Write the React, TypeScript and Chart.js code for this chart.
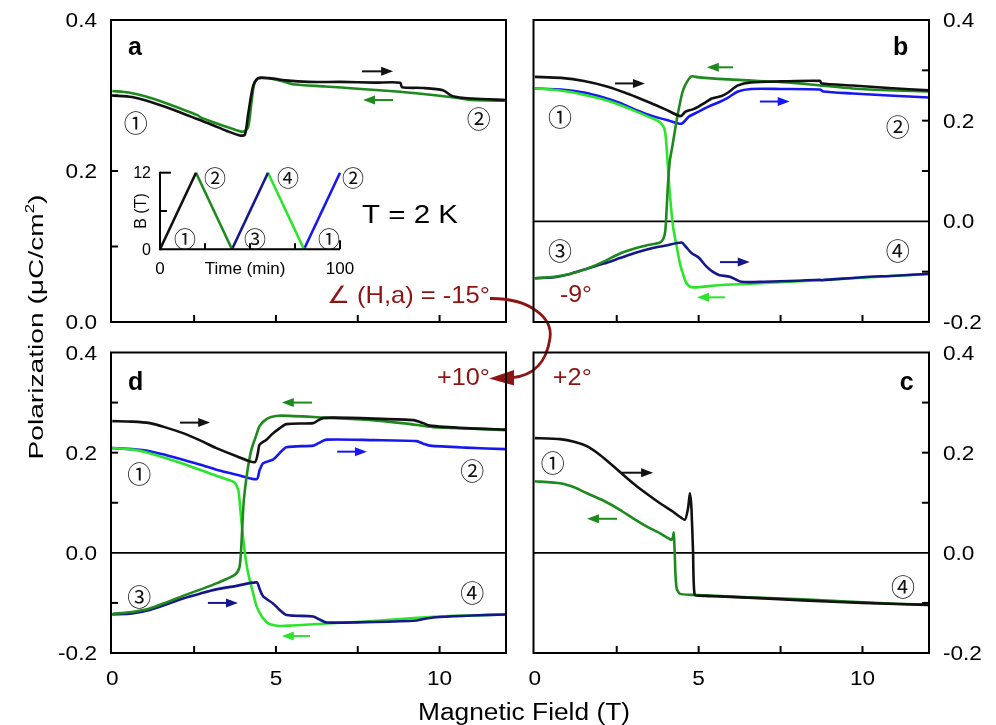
import React, { useEffect, useRef } from 'react';
import { Chart, registerables } from 'chart.js';

Chart.register(...registerables);

type Pt = [number, number];

// ---------------- DATA (B in tesla, P in µC/cm²) ----------------
// Panel a  (∠(H,a) = -15°)
const aSweepUp: Pt[] = [
  [0, 0.300], [0.6, 0.298], [1.2, 0.291], [1.8, 0.282], [2.4, 0.272], [3.0, 0.262], [3.5, 0.253],
  [3.9, 0.247], [4.05, 0.248], [4.15, 0.275], [4.3, 0.312], [4.45, 0.323], [4.8, 0.323], [5.3, 0.320],
  [6.0, 0.318], [7.0, 0.318], [8.0, 0.317], [8.8, 0.317], [8.85, 0.311], [9.5, 0.310], [10.1, 0.307],
  [10.4, 0.299], [11.0, 0.296], [12.05, 0.294],
];
const aSweepDown: Pt[] = [
  [12.05, 0.293], [11.0, 0.294], [10.5, 0.297], [9.5, 0.302], [8.8, 0.305], [7.5, 0.309], [6.5, 0.312],
  [5.5, 0.315], [5.2, 0.319], [4.9, 0.322], [4.5, 0.323], [4.35, 0.318], [4.25, 0.29], [4.15, 0.258],
  [4.0, 0.252], [3.6, 0.257], [3.0, 0.266], [2.7, 0.271], [2.6, 0.274], [2.0, 0.284], [1.5, 0.292],
  [1.0, 0.299], [0.5, 0.304], [0, 0.306],
];

// Panel b  (-9°)
const bUp1: Pt[] = [
  [0, 0.287], [0.8, 0.285], [1.5, 0.279], [2.2, 0.268], [2.9, 0.252], [3.5, 0.236], [4.0, 0.222],
  [4.45, 0.209], [4.6, 0.218], [4.8, 0.222], [5.0, 0.228], [5.2, 0.236], [5.4, 0.244], [5.7, 0.249],
  [5.9, 0.256], [6.2, 0.270], [6.6, 0.276], [7.5, 0.278], [8.7, 0.279], [8.75, 0.274], [9.7, 0.270],
  [10.8, 0.265], [12.05, 0.260],
];
const bDown1: Pt[] = [
  [12.05, 0.258], [11.0, 0.260], [9.7, 0.264], [8.7, 0.270], [7.7, 0.276], [6.5, 0.280], [5.6, 0.283],
  [5.0, 0.286], [4.78, 0.288], [4.6, 0.272], [4.5, 0.255], [4.4, 0.225], [4.3, 0.19], [4.2, 0.15],
  [4.12, 0.12], [4.06, 0.07], [4.02, 0.02], [3.98, -0.02], [3.92, -0.035], [3.82, -0.042], [3.4, -0.048],
  [3.0, -0.055], [2.6, -0.064], [2.1, -0.080], [1.6, -0.094], [1.1, -0.104], [0.6, -0.110], [0, -0.113],
];
const bUp2: Pt[] = [
  [0, -0.113], [0.6, -0.111], [1.1, -0.104], [1.6, -0.094], [2.1, -0.084], [2.6, -0.073], [3.1, -0.062],
  [3.6, -0.053], [4.0, -0.048], [4.48, -0.042], [4.6, -0.050], [4.8, -0.064], [5.0, -0.072], [5.24, -0.090],
  [5.45, -0.101], [5.64, -0.107], [5.95, -0.110], [6.3, -0.120], [7.0, -0.120], [8.0, -0.118], [8.7, -0.116],
  [8.75, -0.117], [10.0, -0.111], [11.0, -0.108], [12.05, -0.104],
];
const bDown2: Pt[] = [
  [12.05, -0.105], [11.0, -0.108], [10.0, -0.112], [8.7, -0.117], [7.5, -0.121], [6.6, -0.124], [5.6, -0.127],
  [4.78, -0.131], [4.62, -0.122], [4.5, -0.10], [4.43, -0.084], [4.3, -0.04], [4.22, -0.011], [4.12, 0.055],
  [4.05, 0.12], [4.0, 0.165], [3.95, 0.185], [3.82, 0.197], [3.61, 0.204], [3.1, 0.218], [2.6, 0.231],
  [2.1, 0.242], [1.6, 0.250], [1.1, 0.257], [0.5, 0.262], [0, 0.264],
];
const bUp3: Pt[] = [
  [0, 0.264], [0.8, 0.262], [1.5, 0.256], [2.1, 0.246], [2.6, 0.235], [3.1, 0.221], [3.6, 0.209],
  [4.1, 0.200], [4.48, 0.194], [4.7, 0.208], [5.0, 0.218], [5.3, 0.228], [5.6, 0.236], [5.9, 0.246],
  [6.2, 0.258], [6.6, 0.263], [7.5, 0.263], [8.7, 0.262], [8.8, 0.258], [9.7, 0.254], [10.8, 0.250],
  [12.05, 0.246],
];

// Panel d  (+10°)
const dUp1: Pt[] = [
  [0, 0.263], [0.6, 0.262], [1.14, 0.259], [1.6, 0.251], [2.16, 0.239], [2.7, 0.224], [3.18, 0.209],
  [3.8, 0.193], [4.35, 0.181], [4.45, 0.2], [4.5, 0.216], [4.71, 0.226], [4.9, 0.238], [5.12, 0.249],
  [5.32, 0.257], [6.14, 0.259], [6.3, 0.265], [6.44, 0.269], [6.75, 0.270], [8.0, 0.268], [9.2, 0.265],
  [9.5, 0.259], [9.7, 0.254], [10.8, 0.249], [12.05, 0.246],
];
const dDown1: Pt[] = [
  [12.05, 0.245], [11.0, 0.248], [9.8, 0.251], [9.0, 0.258], [7.77, 0.266], [6.5, 0.270], [5.17, 0.274],
  [4.85, 0.271], [4.65, 0.264], [4.5, 0.253], [4.4, 0.235], [4.25, 0.206], [4.12, 0.16], [4.02, 0.106],
  [3.97, 0.05], [3.93, 0.0], [3.88, -0.03], [3.74, -0.044], [3.18, -0.061], [2.7, -0.073], [2.16, -0.086],
  [1.65, -0.099], [1.14, -0.111], [0.6, -0.118], [0, -0.122],
];
const dUp2: Pt[] = [
  [0, -0.123], [0.6, -0.121], [1.14, -0.114], [1.65, -0.103], [2.16, -0.091], [2.7, -0.081], [3.18, -0.073],
  [3.8, -0.066], [4.41, -0.059], [4.5, -0.072], [4.61, -0.087], [4.91, -0.101], [5.1, -0.113], [5.32, -0.124],
  [6.14, -0.127], [6.3, -0.132], [6.55, -0.139], [8.0, -0.138], [9.3, -0.135], [9.6, -0.131], [10.0, -0.128],
  [11.0, -0.125], [12.05, -0.123],
];
const dDown2: Pt[] = [
  [12.05, -0.123], [11.0, -0.125], [10.0, -0.127], [9.0, -0.131], [7.77, -0.137], [6.55, -0.141], [5.5, -0.145],
  [5.12, -0.146], [4.85, -0.143], [4.71, -0.138], [4.55, -0.125], [4.41, -0.107], [4.28, -0.075], [4.15, -0.041],
  [4.05, 0.0], [3.95, 0.06], [3.88, 0.11], [3.85, 0.125], [3.74, 0.14], [3.49, 0.147], [3.0, 0.158],
  [2.67, 0.166], [2.16, 0.178], [1.65, 0.189], [1.14, 0.199], [0.63, 0.206], [0, 0.209],
];
const dUp3: Pt[] = [
  [0, 0.209], [0.6, 0.207], [1.14, 0.203], [1.65, 0.195], [2.16, 0.186], [2.7, 0.176], [3.18, 0.166],
  [3.8, 0.156], [4.41, 0.147], [4.5, 0.165], [4.61, 0.179], [4.91, 0.186], [5.1, 0.198], [5.32, 0.211],
  [6.14, 0.214], [6.3, 0.219], [6.55, 0.226], [8.0, 0.225], [9.3, 0.223], [9.5, 0.218], [9.7, 0.214],
  [10.8, 0.210], [12.05, 0.207],
];

// Panel c  (+2°)
const cSweepUp: Pt[] = [
  [0, 0.229], [0.77, 0.227], [1.2, 0.222], [1.59, 0.213], [2.0, 0.195], [2.4, 0.173], [2.8, 0.150],
  [3.11, 0.133], [3.5, 0.114], [3.82, 0.099], [4.2, 0.083], [4.58, 0.066], [4.68, 0.09], [4.73, 0.119],
  [4.78, 0.09], [4.83, 0.0], [4.88, -0.084], [5.2, -0.086], [5.64, -0.087], [7.0, -0.091], [8.18, -0.095],
  [10.0, -0.100], [12.05, -0.104],
];
const cSweepDown: Pt[] = [
  [12.05, -0.104], [10.0, -0.099], [8.18, -0.093], [6.5, -0.089], [5.5, -0.086], [4.8, -0.084], [4.43, -0.082],
  [4.33, -0.072], [4.29, -0.04], [4.27, 0.0], [4.25, 0.03], [4.24, 0.041], [4.21, 0.03], [4.17, 0.026],
  [3.8, 0.040], [3.41, 0.053], [3.0, 0.069], [2.6, 0.086], [2.1, 0.104], [1.59, 0.119], [1.2, 0.131],
  [0.77, 0.139], [0, 0.143],
];

// Inset: field protocol B(T) vs time (min)
const insetSeg1: Pt[] = [[0, 0], [20, 12]];
const insetSeg2: Pt[] = [[20, 12], [40, 0]];
const insetSeg3: Pt[] = [[40, 0], [60, 12]];
const insetSeg4: Pt[] = [[60, 12], [80, 0]];
const insetSeg5: Pt[] = [[80, 0], [100, 12]];

// Axis ticks / labels
const X_TICKS = [2.5, 5, 7.5, 10];
const X_LABELS = [0, 5, 10];
const Y_TICKS_A = [0.1, 0.2, 0.3];
const Y_LABELS_A = [0, 0.2, 0.4];
const Y_TICKS_BCD = [-0.1, 0.1, 0.2, 0.3];
const Y_LABELS_BCD = [-0.2, 0, 0.2, 0.4];
const INSET_Y_TICKS = [6, 12];
const INSET_X_TICKS = [25, 50, 75, 100];
const INSET_Y_LABELS = [0, 12];
const INSET_X_LABELS = [0, 100];

// ---------------- STYLE / LAYOUT ----------------
const W = 996;
const H = 725;
const SANS = '"Liberation Sans", Arial, "DejaVu Sans", sans-serif';
const CJK = '"Noto Sans CJK JP", "Noto Sans CJK SC", "DejaVu Sans", sans-serif';
const DARK_RED = '#8E1414';
const COL = {
  black: '#111111',
  dkgreen: '#1E8A1E',
  ltgreen: '#2BE52B',
  blue: '#1717F2',
  navy: '#16168C',
};
const X_MIN = -0.04;
const X_MAX = 12.03;
const TICK_STRETCH = 1.13;
const MARK_SIZE = 24;
const INSET_MARK_SIZE = 22;

interface Series { pts: Pt[]; color: string; tension?: number }
interface Arrow { from: number; to: number; y: number; color: string }
interface Mark { text: string; x: number; y: number }
interface Note { text: string; x: number; y: number; size: number; bold?: boolean; color?: string; width?: number; valign?: 'baseline' | 'center' }
interface PanelCfg {
  kind: 'panel';
  area: { left: number; top: number; right: number; bottom: number };
  yMin: number; yMax: number;
  side: 'left' | 'right';
  yTicks: number[]; yLabels: number[]; xLabels: number[];
  zero: boolean;
  series: Series[];
  arrows: Arrow[];
  marks: Mark[];
  notes: Note[];
  global?: boolean;
}
interface InsetCfg {
  kind: 'inset';
  area: { left: number; top: number; right: number; bottom: number };
  series: Series[];
  marks: Mark[];
}

const PANEL_A: PanelCfg = {
  kind: 'panel',
  area: { left: 111, top: 20, right: 506, bottom: 322 },
  yMin: 0, yMax: 0.4, side: 'left',
  yTicks: Y_TICKS_A, yLabels: Y_LABELS_A, xLabels: [], zero: false,
  series: [
    { pts: aSweepUp, color: COL.black },
    { pts: aSweepDown, color: COL.dkgreen },
  ],
  arrows: [
    { from: 7.63, to: 8.58, y: 0.332, color: COL.black },
    { from: 8.58, to: 7.66, y: 0.294, color: COL.dkgreen },
  ],
  marks: [
    { text: '①', x: 0.72, y: 0.264 },
    { text: '②', x: 11.2, y: 0.269 },
  ],
  notes: [
    { text: 'a', x: 0.48, y: 0.354, size: 25, bold: true, valign: 'baseline' },
    { text: 'T = 2 K', x: 7.63, y: 0.144, size: 26, width: 96 },
    { text: '∠ (H,a) = -15°', x: 6.56, y: 0.036, size: 24, width: 163, color: DARK_RED },
  ],
  global: true,
};

const PANEL_B: PanelCfg = {
  kind: 'panel',
  area: { left: 533.5, top: 20, right: 929, bottom: 322 },
  yMin: -0.2, yMax: 0.4, side: 'right',
  yTicks: Y_TICKS_BCD, yLabels: Y_LABELS_BCD, xLabels: [], zero: true,
  series: [
    { pts: bUp1, color: COL.black },
    { pts: bDown1, color: COL.dkgreen },
    { pts: bUp2, color: COL.navy },
    { pts: bDown2, color: COL.ltgreen },
    { pts: bUp3, color: COL.blue },
  ],
  arrows: [
    { from: 2.45, to: 3.36, y: 0.274, color: COL.black },
    { from: 6.05, to: 5.25, y: 0.306, color: COL.dkgreen },
    { from: 6.87, to: 7.78, y: 0.238, color: COL.blue },
    { from: 5.65, to: 6.56, y: -0.081, color: COL.navy },
    { from: 5.8, to: 4.95, y: -0.151, color: COL.ltgreen },
  ],
  marks: [
    { text: '①', x: 0.77, y: 0.207 },
    { text: '②', x: 11.08, y: 0.187 },
    { text: '③', x: 0.77, y: -0.058 },
    { text: '④', x: 11.08, y: -0.058 },
  ],
  notes: [
    { text: 'b', x: 10.93, y: 0.330, size: 25, bold: true, valign: 'baseline' },
    { text: '-9°', x: 0.77, y: -0.143, size: 24, width: 32, color: DARK_RED },
  ],
};

const PANEL_D: PanelCfg = {
  kind: 'panel',
  area: { left: 111, top: 352.5, right: 506, bottom: 653 },
  yMin: -0.2, yMax: 0.4, side: 'left',
  yTicks: Y_TICKS_BCD, yLabels: Y_LABELS_BCD, xLabels: X_LABELS, zero: true,
  series: [
    { pts: dUp1, color: COL.black },
    { pts: dDown1, color: COL.dkgreen },
    { pts: dUp2, color: COL.navy },
    { pts: dDown2, color: COL.ltgreen },
    { pts: dUp3, color: COL.blue },
  ],
  arrows: [
    { from: 2.07, to: 2.99, y: 0.26, color: COL.black },
    { from: 6.1, to: 5.18, y: 0.30, color: COL.dkgreen },
    { from: 6.87, to: 7.78, y: 0.202, color: COL.blue },
    { from: 2.92, to: 3.84, y: -0.10, color: COL.navy },
    { from: 6.04, to: 5.18, y: -0.166, color: COL.ltgreen },
  ],
  marks: [
    { text: '①', x: 0.82, y: 0.158 },
    { text: '②', x: 11.0, y: 0.164 },
    { text: '③', x: 0.82, y: -0.088 },
    { text: '④', x: 11.0, y: -0.08 },
  ],
  notes: [
    { text: 'd', x: 0.48, y: 0.326, size: 25, bold: true, valign: 'baseline' },
    { text: '+10°', x: 9.92, y: 0.352, size: 24, width: 53, color: DARK_RED },
  ],
};

const PANEL_C: PanelCfg = {
  kind: 'panel',
  area: { left: 533.5, top: 352.5, right: 929, bottom: 653 },
  yMin: -0.2, yMax: 0.4, side: 'right',
  yTicks: Y_TICKS_BCD, yLabels: Y_LABELS_BCD, xLabels: X_LABELS, zero: true,
  series: [
    { pts: cSweepUp, color: COL.black, tension: 0.15 },
    { pts: cSweepDown, color: COL.dkgreen, tension: 0.15 },
  ],
  arrows: [
    { from: 2.66, to: 3.61, y: 0.16, color: COL.black },
    { from: 2.51, to: 1.59, y: 0.068, color: COL.dkgreen },
  ],
  marks: [
    { text: '①', x: 0.55, y: 0.18 },
    { text: '④', x: 11.24, y: -0.068 },
  ],
  notes: [
    { text: 'c', x: 11.14, y: 0.326, size: 25, bold: true, valign: 'baseline' },
    { text: '+2°', x: 0.55, y: 0.352, size: 24, width: 39, color: DARK_RED },
  ],
};

const INSET: InsetCfg = {
  kind: 'inset',
  area: { left: 160, top: 172.7, right: 340, bottom: 249.3 },
  series: [
    { pts: insetSeg1, color: COL.black, tension: 0 },
    { pts: insetSeg2, color: COL.dkgreen, tension: 0 },
    { pts: insetSeg3, color: COL.navy, tension: 0 },
    { pts: insetSeg4, color: COL.ltgreen, tension: 0 },
    { pts: insetSeg5, color: COL.blue, tension: 0 },
  ],
  marks: [
    { text: '①', x: 13.9, y: 1.6 },
    { text: '②', x: 30.6, y: 11.3 },
    { text: '③', x: 52.8, y: 1.6 },
    { text: '④', x: 71.1, y: 11.3 },
    { text: '②', x: 107.2, y: 11.3 },
    { text: '①', x: 93.9, y: 1.6 },
  ],
};

// curved dark-red arrow linking the panels (page pixels)
const CURVE = {
  start: [490, 298.5], c1: [530, 298], c2: [553, 318], mid: [550, 338],
  c3: [547, 360], c4: [535, 376], end: [511, 377.8],
  tip: [489, 378.4], back1: [514, 370], back2: [514, 385.5],
};

// ---------------- DRAW HELPERS ----------------
interface TextOpt { size: number; bold?: boolean; color?: string; align?: 'left' | 'center' | 'right'; stretch?: number; width?: number; valign?: 'baseline' | 'center'; family?: string }

function drawText(ctx: CanvasRenderingContext2D, s: string, x: number, y: number, o: TextOpt) {
  ctx.save();
  ctx.font = `${o.bold ? 'bold ' : ''}${o.size}px ${o.family || SANS}`;
  ctx.fillStyle = o.color || '#000';
  ctx.textAlign = 'left';
  ctx.textBaseline = 'alphabetic';
  const w = ctx.measureText(s).width;
  const k = o.width ? o.width / w : (o.stretch ?? 1);
  const tw = w * k;
  let x0 = x;
  if (o.align === 'center') x0 = x - tw / 2;
  else if (o.align === 'right') x0 = x - tw;
  const base = o.valign === 'baseline' ? y : y + o.size * 0.358;
  ctx.translate(x0, base);
  ctx.scale(k, 1);
  ctx.fillText(s, 0, 0);
  ctx.restore();
}

function drawCircled(ctx: CanvasRenderingContext2D, s: string, x: number, y: number, size: number) {
  ctx.save();
  ctx.font = `${size}px ${CJK}`;
  ctx.fillStyle = '#111';
  ctx.textAlign = 'center';
  ctx.textBaseline = 'middle';
  ctx.fillText(s, x, y);
  ctx.restore();
}

function drawArrow(ctx: CanvasRenderingContext2D, x1: number, x2: number, y: number, color: string) {
  const dir = Math.sign(x2 - x1);
  const head = 12;
  const hw = 4.5;
  ctx.save();
  ctx.strokeStyle = color;
  ctx.fillStyle = color;
  ctx.lineWidth = 2;
  ctx.beginPath();
  ctx.moveTo(x1, y);
  ctx.lineTo(x2 - dir * head * 0.7, y);
  ctx.stroke();
  ctx.beginPath();
  ctx.moveTo(x2, y);
  ctx.lineTo(x2 - dir * head, y - hw);
  ctx.lineTo(x2 - dir * head, y + hw);
  ctx.closePath();
  ctx.fill();
  ctx.restore();
}

function line(ctx: CanvasRenderingContext2D, x1: number, y1: number, x2: number, y2: number, w = 2, color = '#000') {
  ctx.save();
  ctx.strokeStyle = color;
  ctx.lineWidth = w;
  ctx.beginPath();
  ctx.moveTo(x1, y1);
  ctx.lineTo(x2, y2);
  ctx.stroke();
  ctx.restore();
}

function drawGlobal(ctx: CanvasRenderingContext2D) {
  // y-axis title (rotated), with superscript 2
  ctx.save();
  ctx.translate(43, 327);
  ctx.rotate(-Math.PI / 2);
  const size = 20.5;
  const p1 = 'Polarization (μC/cm';
  const p2 = '2';
  const p3 = ')';
  ctx.fillStyle = '#000';
  ctx.textBaseline = 'alphabetic';
  ctx.font = `${size}px ${SANS}`;
  const w1 = ctx.measureText(p1).width;
  const w3 = ctx.measureText(p3).width;
  ctx.font = `${size * 0.6}px ${SANS}`;
  const w2 = ctx.measureText(p2).width;
  const total = w1 + w2 + w3;
  const k = 265 / total;
  ctx.scale(k, 1);
  let x = -total / 2;
  ctx.font = `${size}px ${SANS}`;
  ctx.fillText(p1, x, 0);
  x += w1;
  ctx.font = `${size * 0.6}px ${SANS}`;
  ctx.fillText(p2, x, -size * 0.45);
  x += w2;
  ctx.font = `${size}px ${SANS}`;
  ctx.fillText(p3, x, 0);
  ctx.restore();

  // x-axis title
  drawText(ctx, 'Magnetic Field (T)', 524, 720, { size: 23, width: 212, align: 'center', valign: 'baseline' });

  // curved arrow
  ctx.save();
  ctx.strokeStyle = DARK_RED;
  ctx.fillStyle = DARK_RED;
  ctx.lineWidth = 2.8;
  ctx.beginPath();
  ctx.moveTo(CURVE.start[0], CURVE.start[1]);
  ctx.bezierCurveTo(CURVE.c1[0], CURVE.c1[1], CURVE.c2[0], CURVE.c2[1], CURVE.mid[0], CURVE.mid[1]);
  ctx.bezierCurveTo(CURVE.c3[0], CURVE.c3[1], CURVE.c4[0], CURVE.c4[1], CURVE.end[0], CURVE.end[1]);
  ctx.stroke();
  ctx.beginPath();
  ctx.moveTo(CURVE.tip[0], CURVE.tip[1]);
  ctx.lineTo(CURVE.back1[0], CURVE.back1[1]);
  ctx.lineTo(CURVE.back2[0], CURVE.back2[1]);
  ctx.closePath();
  ctx.fill();
  ctx.restore();
}

function panelPlugin(cfg: PanelCfg) {
  return {
    id: 'panelDeco',
    beforeDatasetsDraw(chart: any) {
      if (!cfg.zero) return;
      const { ctx, chartArea: a } = chart;
      const py = chart.scales.y.getPixelForValue(0);
      line(ctx, a.left, py, a.right, py, 1.6);
    },
    afterDraw(chart: any) {
      const { ctx, chartArea: a } = chart;
      const xs = chart.scales.x;
      const ys = chart.scales.y;
      // frame
      ctx.save();
      ctx.strokeStyle = '#000';
      ctx.lineWidth = 2;
      ctx.strokeRect(a.left, a.top, a.right - a.left, a.bottom - a.top);
      ctx.restore();
      // x ticks (inward)
      X_TICKS.forEach((v) => {
        const px = xs.getPixelForValue(v);
        line(ctx, px, a.bottom, px, a.bottom - 7, 2);
      });
      // y ticks (inward)
      cfg.yTicks.forEach((v) => {
        const py = ys.getPixelForValue(v);
        if (cfg.side === 'left') line(ctx, a.left, py, a.left + 7, py, 2);
        else line(ctx, a.right, py, a.right - 7, py, 2);
      });
      // y labels
      cfg.yLabels.forEach((v) => {
        const py = ys.getPixelForValue(v);
        const s = v.toFixed(1);
        if (cfg.side === 'left') drawText(ctx, s, a.left - 14, py, { size: 20, stretch: TICK_STRETCH, align: 'right' });
        else drawText(ctx, s, a.right + 14, py, { size: 20, stretch: TICK_STRETCH, align: 'left' });
      });
      // x labels
      cfg.xLabels.forEach((v) => {
        const px = xs.getPixelForValue(v);
        drawText(ctx, String(v), px, a.bottom + 25, { size: 20, stretch: TICK_STRETCH, align: 'center' });
      });
      // arrows
      cfg.arrows.forEach((ar) => {
        drawArrow(ctx, xs.getPixelForValue(ar.from), xs.getPixelForValue(ar.to), ys.getPixelForValue(ar.y), ar.color);
      });
      // circled state numbers
      cfg.marks.forEach((m) => drawCircled(ctx, m.text, xs.getPixelForValue(m.x), ys.getPixelForValue(m.y), MARK_SIZE));
      // notes
      cfg.notes.forEach((n) => {
        drawText(ctx, n.text, xs.getPixelForValue(n.x), ys.getPixelForValue(n.y), {
          size: n.size, bold: n.bold, color: n.color, width: n.width, valign: n.valign,
        });
      });
      if (cfg.global) drawGlobal(ctx);
    },
  };
}

function insetPlugin(cfg: InsetCfg) {
  return {
    id: 'insetDeco',
    afterDraw(chart: any) {
      const { ctx, chartArea: a } = chart;
      const xs = chart.scales.x;
      const ys = chart.scales.y;
      line(ctx, a.left, a.bottom, a.right, a.bottom, 2);
      line(ctx, a.left, a.bottom + 1, a.left, a.top - 1, 2);
      INSET_Y_TICKS.forEach((v) => {
        const py = ys.getPixelForValue(v);
        line(ctx, a.left, py, a.left + (v === 12 ? 11 : 7), py, 2);
      });
      INSET_X_TICKS.forEach((v) => {
        const px = xs.getPixelForValue(v);
        line(ctx, px, a.bottom, px, a.bottom - (v === 100 ? 9 : 6), 2);
      });
      INSET_Y_LABELS.forEach((v) => {
        drawText(ctx, String(v), a.left - 9, ys.getPixelForValue(v), { size: 16, align: 'right' });
      });
      INSET_X_LABELS.forEach((v) => {
        drawText(ctx, String(v), xs.getPixelForValue(v), a.bottom + 19, { size: 17, align: 'center' });
      });
      drawText(ctx, 'Time (min)', (a.left + a.right) / 2 - 5, a.bottom + 19, { size: 17, align: 'center' });
      // rotated "B (T)"
      ctx.save();
      ctx.translate(a.left - 14, (a.top + a.bottom) / 2);
      ctx.rotate(-Math.PI / 2);
      ctx.font = `16px ${SANS}`;
      ctx.fillStyle = '#000';
      ctx.textAlign = 'center';
      ctx.textBaseline = 'alphabetic';
      ctx.fillText('B (T)', 0, 0);
      ctx.restore();
      cfg.marks.forEach((m) => drawCircled(ctx, m.text, xs.getPixelForValue(m.x), ys.getPixelForValue(m.y), INSET_MARK_SIZE));
    },
  };
}

function makeChart(canvas: HTMLCanvasElement, cfg: PanelCfg | InsetCfg) {
  const a = cfg.area;
  const isInset = cfg.kind === 'inset';
  return new Chart(canvas, {
    type: 'line',
    data: {
      datasets: cfg.series.map((s) => ({
        data: s.pts.map(([x, y]) => ({ x, y })),
        borderColor: s.color,
        borderWidth: 2.6,
        pointRadius: 0,
        tension: s.tension ?? 0.25,
        fill: false,
        clip: isInset ? false : undefined,
      })),
    },
    options: {
      animation: false,
      responsive: false,
      maintainAspectRatio: false,
      devicePixelRatio: 1,
      events: [],
      layout: { padding: { left: a.left, top: a.top, right: W - a.right, bottom: H - a.bottom } },
      plugins: { legend: { display: false }, tooltip: { enabled: false }, title: { display: false } },
      scales: {
        x: isInset
          ? { type: 'linear', min: 0, max: 100, display: false }
          : { type: 'linear', min: X_MIN, max: X_MAX, display: false },
        y: isInset
          ? { type: 'linear', min: 0, max: 12, display: false }
          : { type: 'linear', min: (cfg as PanelCfg).yMin, max: (cfg as PanelCfg).yMax, display: false },
      },
    } as any,
    plugins: [isInset ? insetPlugin(cfg as InsetCfg) : panelPlugin(cfg as PanelCfg)],
  });
}

const CONFIGS: (PanelCfg | InsetCfg)[] = [PANEL_A, PANEL_B, PANEL_D, PANEL_C, INSET];

export default function App() {
  const refs = useRef<(HTMLCanvasElement | null)[]>([]);
  useEffect(() => {
    const charts = CONFIGS.map((cfg, i) => makeChart(refs.current[i] as HTMLCanvasElement, cfg));
    return () => charts.forEach((c) => c.destroy());
  }, []);
  return (
    <div style={{ position: 'absolute', left: 0, top: 0, width: W, height: H, background: '#fff', overflow: 'hidden' }}>
      {CONFIGS.map((_, i) => (
        <canvas
          key={i}
          ref={(el) => { refs.current[i] = el; }}
          width={W}
          height={H}
          style={{ position: 'absolute', left: 0, top: 0, width: W, height: H }}
        />
      ))}
    </div>
  );
}
